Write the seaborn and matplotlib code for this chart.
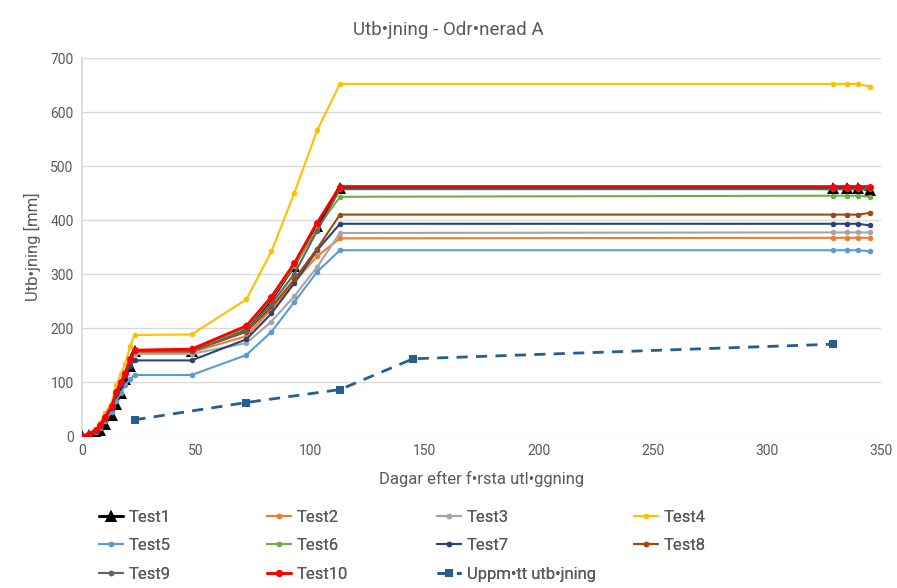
import matplotlib
matplotlib.use("Agg")
import matplotlib.pyplot as plt
import seaborn as sns
import pandas as pd
from matplotlib.lines import Line2D

# Days since first placement
days = [0, 3, 6, 8, 10, 13, 15, 17, 19, 21, 23, 48, 72, 83, 93, 103, 113, 329, 335, 340, 345]

test1 = [0, 2, 6, 12, 22, 38, 60, 80, 105, 130, 157, 157, 200, 252, 315, 388, 460, 460, 460, 460, 455]
test2 = [0, 4, 10, 19, 34, 54, 80, 98, 115, 140, 155, 155, 185, 235, 285, 333, 366, 367, 367, 367, 367]
test3 = [0, 4, 10, 19, 34, 54, 80, 98, 115, 138, 152, 152, 172, 212, 259, 313, 376, 377, 377, 377, 377]
test4 = [0, 5, 13, 24, 42, 62, 94, 115, 134, 166, 187, 188, 253, 342, 450, 566, 652, 652, 652, 652, 647]
test5 = [0, 3, 8, 15, 27, 45, 65, 80, 95, 105, 113, 113, 150, 193, 248, 304, 344, 344, 344, 344, 342]
test6 = [0, 4, 11, 20, 35, 55, 82, 100, 117, 142, 158, 158, 200, 255, 315, 385, 443, 445, 445, 445, 443]
test7 = [0, 4, 10, 18, 32, 52, 77, 95, 112, 130, 140, 140, 179, 227, 283, 344, 393, 393, 393, 393, 390]
test8 = [0, 4, 10, 19, 34, 54, 80, 98, 115, 140, 157, 157, 193, 239, 290, 347, 410, 410, 410, 410, 413]
test9 = [0, 4, 10, 19, 34, 54, 80, 98, 115, 140, 157, 157, 195, 245, 300, 380, 457, 457, 457, 457, 457]
test10 = [0, 4, 11, 20, 35, 55, 82, 100, 117, 142, 159, 161, 204, 258, 320, 395, 462, 462, 462, 462, 462]

# Measured settlement
meas_days = [23, 72, 113, 145, 329]
meas_vals = [30, 62, 86, 143, 170]

names = ["Test1", "Test2", "Test3", "Test4", "Test5", "Test6", "Test7", "Test8", "Test9", "Test10"]
series = [test1, test2, test3, test4, test5, test6, test7, test8, test9, test10]
colors = ["#000000", "#ED7D31", "#A5A5A5", "#FFC000", "#5B9BD5", "#70AD47",
          "#264478", "#9E480E", "#636363", "#FF0000"]
meas_label = "Uppm\u2022tt utb\u2022jning"
meas_color = "#255E91"

sns.set_theme(style="white")
plt.rcParams["font.family"] = ["Roboto", "DejaVu Sans"]
text_col = "#595959"

fig = plt.figure(figsize=(8.97, 5.88), dpi=100)
ax = fig.add_axes([82 / 897, 1 - 436 / 588, (881 - 82) / 897, (436 - 58) / 588])

df = pd.DataFrame({"day": days})
handles = {}
draw_order = [8, 1, 2, 3, 4, 5, 6, 7, 0, 9]
for i in draw_order:
    name = names[i]
    df[name] = series[i]
    if name == "Test1":
        kw = dict(marker="^", markersize=8, linewidth=2.0)
    elif name == "Test10":
        kw = dict(marker="o", markersize=5, linewidth=2.0)
    else:
        kw = dict(marker="o", markersize=4, linewidth=1.5)
    sns.lineplot(data=df, x="day", y=name, color=colors[i], ax=ax,
                 markeredgewidth=0, zorder=3 + i * 0.1, **kw)
    handles[name] = Line2D([], [], color=colors[i], **kw, markeredgewidth=0)

mdf = pd.DataFrame({"day": meas_days, "val": meas_vals})
sns.lineplot(data=mdf, x="day", y="val", color=meas_color, ax=ax, marker="s",
             markersize=6, markeredgewidth=0, linewidth=2.0, linestyle=(0, (4, 3)),
             zorder=4)
handles[meas_label] = Line2D([], [], color=meas_color, marker="s", markersize=6,
                             markeredgewidth=0, linewidth=2.0, linestyle=(0, (4, 3)))

ax.set_xlim(0, 350)
ax.set_ylim(0, 700)
ax.set_xticks(range(0, 351, 50))
ax.set_yticks(range(0, 701, 100))
ax.grid(axis="y", color="#D9D9D9", linewidth=1)
ax.set_axisbelow(True)
for s in ["top", "right", "bottom"]:
    ax.spines[s].set_visible(False)
ax.spines["left"].set_color("#D9D9D9")
ax.tick_params(axis="both", colors=text_col, labelsize=10, length=0, pad=6)
ax.set_xlabel("Dagar efter f\u2022rsta utl\u2022ggning", fontsize=12, color=text_col, labelpad=9)
ax.set_ylabel("Utb\u2022jning [mm]", fontsize=12, color=text_col, labelpad=7)

fig.text(0.5, 1 - 30 / 588, "Utb\u2022jning - Odr\u2022nerad A", ha="center", va="center",
         fontsize=13.5, color=text_col)

# Legend in four columns below the plot
cols = [["Test1", "Test5", "Test9"], ["Test2", "Test6", "Test10"],
        ["Test3", "Test7", meas_label], ["Test4", "Test8"]]
xs = [99, 267, 437, 634]
for col, x in zip(cols, xs):
    leg = fig.legend([handles[n] for n in col], col, loc="upper left",
                     bbox_to_anchor=(x / 897, 1 - 510 / 588), frameon=False,
                     fontsize=12, handlelength=1.45, handletextpad=0.35,
                     labelspacing=0.8, borderaxespad=0, borderpad=0)
    for t in leg.get_texts():
        t.set_color(text_col)
    fig.add_artist(leg)

fig.savefig("out.png", dpi=100)
